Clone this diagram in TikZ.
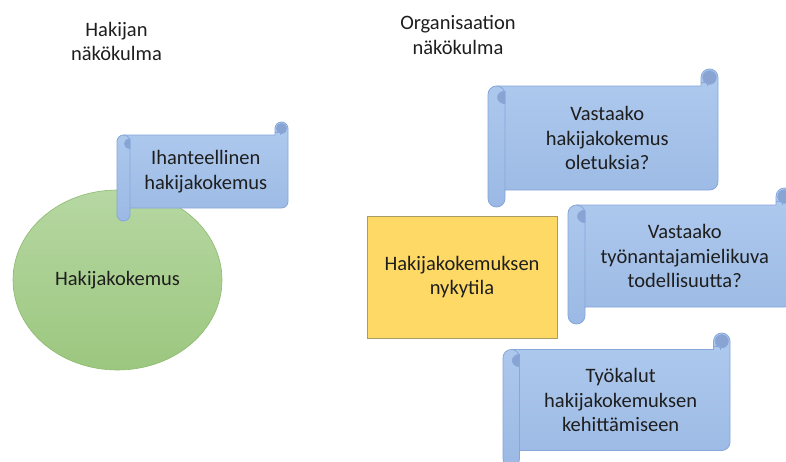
\documentclass[tikz,border=0pt]{standalone}
\usepackage{fontspec}
\setmainfont{Carlito}
\usetikzlibrary{shapes.geometric}

\definecolor{txt}{HTML}{1E1E1E}
\definecolor{scrolltop}{HTML}{AFCAEE}
\definecolor{scrollbot}{HTML}{9BB9E4}
\definecolor{scrollline}{HTML}{85A7DA}
\definecolor{scrolldark}{HTML}{89A4D2}
\definecolor{greentop}{HTML}{B6D7A2}
\definecolor{greenbot}{HTML}{9CC77F}
\definecolor{greenline}{HTML}{8DBA70}
\definecolor{yellowfill}{HTML}{FFD966}
\definecolor{yellowline}{HTML}{A89C62}

\tikzset{
  basetext/.style={text=txt, align=center, inner sep=0pt,
    font=\fontsize{20.5}{24.5}\selectfont},
  scrollbody/.style={top color=scrolltop, bottom color=scrollbot,
    draw=scrollline, line width=0.8pt, line join=round},
  scrolledge/.style={draw=scrollline, line width=0.8pt},
  scrollcurl/.style={fill=scrolldark, draw=scrollline, line width=0.6pt},
  scrolltext/.style={basetext},
  heading/.style={basetext},
  bubble/.style={ellipse, top color=greentop, bottom color=greenbot,
    draw=greenline, line width=0.6pt, basetext},
  statebox/.style={rectangle, fill=yellowfill, draw=yellowline,
    line width=0.8pt, basetext},
}

% Horizontal scroll: #1 name, #2 left, #3 top, #4 right, #5 bottom,
% #6 roll thickness, #7 text
\newcommand{\drawscroll}[7]{%
  \begin{scope}
    \pgfmathsetmacro{\sL}{#2}\pgfmathsetmacro{\sT}{#3}%
    \pgfmathsetmacro{\sR}{#4}\pgfmathsetmacro{\sB}{#5}%
    \pgfmathsetmacro{\sc}{#6}\pgfmathsetmacro{\sr}{#6/2}%
    % outline of sheet, left roll and upper right roll
    \path[scrollbody] (\sL,\sT+\sc+\sr)
      arc[start angle=180, end angle=270, radius=\sr]
      -- (\sR-\sc,\sT+\sc) -- (\sR-\sc,\sT+\sr)
      arc[start angle=180, end angle=360, radius=\sr]
      -- (\sR,\sB-\sc-\sr)
      arc[start angle=0, end angle=90, radius=\sr]
      -- (\sL+\sc,\sB-\sc) -- (\sL+\sc,\sB-\sr)
      arc[start angle=0, end angle=180, radius=\sr]
      -- cycle;
    % front edge of the left roll
    \path[scrolledge] (\sL+\sr,\sT+\sc)
      arc[start angle=270, end angle=360, radius=\sr]
      -- (\sL+\sc,\sB-\sc);
    % inner curl of the left roll
    \path[scrollcurl] (\sL+\sc,\sT+1.3*\sc)
      arc[start angle=270, end angle=90, x radius=0.44*\sc, y radius=0.37*\sc]
      -- cycle;
    % inner curl of the upper right roll
    \path[scrollcurl] (\sR-\sr,\sT+\sr) circle[radius=0.4*\sc];
    \path[scrolledge] (\sR-\sc,\sT+0.8*\sc) -- (\sR-\sr-0.1*\sc,\sT+0.8*\sc)
      -- (\sR-\sr-0.1*\sc,\sT+\sc);
    \node[scrolltext] (#1) at ({(\sL+\sR)/2+\sc/4},{(\sT+\sB)/2}) {#7};
  \end{scope}%
}

\begin{document}
\begin{tikzpicture}[x=1pt, y=-1pt]
  \useasboundingbox[fill=white] (0,0) rectangle (786,461);

  % applicant's side
  \node[heading] (applicantview) at (116.5,41.5) {Hakijan\\näkökulma};
  \node[bubble, minimum width=209pt, minimum height=180pt]
    (experience) at (117.5,280) {Hakijakokemus};
  \drawscroll{ideal}{117}{122}{288}{221}{13}{Ihanteellinen\\hakijakokemus}

  % organisation's side
  \node[heading] (orgview) at (458,35) {Organisaation\\näkökulma};
  \node[statebox, minimum width=190pt, minimum height=122pt]
    (current) at (462,277) {Hakijakokemuksen\\nykytila};
  \drawscroll{expect}{488}{69}{718}{207}{17}{Vastaako\\hakijakokemus\\oletuksia?}
  \drawscroll{image}{568}{188}{793}{324}{17}{Vastaako\\työnantajamielikuva\\todellisuutta?}
  \drawscroll{tools}{503}{333}{730}{467}{16.5}{Työkalut\\hakijakokemuksen\\kehittämiseen}
\end{tikzpicture}
\end{document}
